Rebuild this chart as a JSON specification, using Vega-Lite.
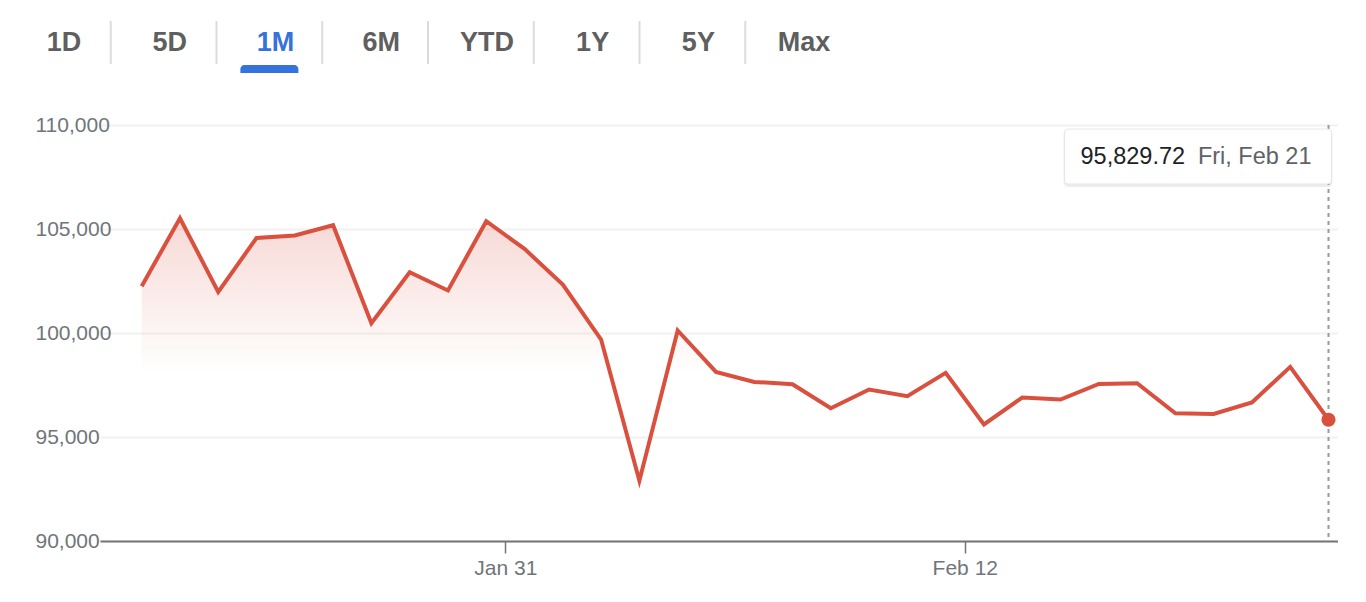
{
  "$schema": "https://vega.github.io/schema/vega-lite/v6.json",
  "padding": {"left": 35, "top": 20, "right": 0, "bottom": 0},
  "background": "white",
  "spacing": 52,
  "bounds": "flush",
  "config": {
    "view": {"stroke": null},
    "font": "Liberation Sans"
  },
  "datasets": {
    "btc": [
      {"date": "2025-01-21T12:00:00", "price": 102250},
      {"date": "2025-01-22T12:00:00", "price": 105519},
      {"date": "2025-01-23T12:00:00", "price": 101976},
      {"date": "2025-01-24T12:00:00", "price": 104572},
      {"date": "2025-01-25T12:00:00", "price": 104688},
      {"date": "2025-01-26T12:00:00", "price": 105183},
      {"date": "2025-01-27T12:00:00", "price": 100471},
      {"date": "2025-01-28T12:00:00", "price": 102923},
      {"date": "2025-01-29T12:00:00", "price": 102043},
      {"date": "2025-01-30T12:00:00", "price": 105375},
      {"date": "2025-01-31T12:00:00", "price": 104043},
      {"date": "2025-02-01T12:00:00", "price": 102332},
      {"date": "2025-02-02T12:00:00", "price": 99687},
      {"date": "2025-02-03T12:00:00", "price": 92899},
      {"date": "2025-02-04T12:00:00", "price": 100120},
      {"date": "2025-02-05T12:00:00", "price": 98130},
      {"date": "2025-02-06T12:00:00", "price": 97649},
      {"date": "2025-02-07T12:00:00", "price": 97538},
      {"date": "2025-02-08T12:00:00", "price": 96385},
      {"date": "2025-02-09T12:00:00", "price": 97284},
      {"date": "2025-02-10T12:00:00", "price": 96962},
      {"date": "2025-02-11T12:00:00", "price": 98082},
      {"date": "2025-02-12T12:00:00", "price": 95601},
      {"date": "2025-02-13T12:00:00", "price": 96899},
      {"date": "2025-02-14T12:00:00", "price": 96803},
      {"date": "2025-02-15T12:00:00", "price": 97553},
      {"date": "2025-02-16T12:00:00", "price": 97587},
      {"date": "2025-02-17T12:00:00", "price": 96144},
      {"date": "2025-02-18T12:00:00", "price": 96111},
      {"date": "2025-02-19T12:00:00", "price": 96659},
      {"date": "2025-02-20T12:00:00", "price": 98370},
      {"date": "2025-02-21T12:00:00", "price": 95829.72}
    ],
    "tabs": [
      {"tab": "1D"}, {"tab": "5D"}, {"tab": "1M"}, {"tab": "6M"},
      {"tab": "YTD"}, {"tab": "1Y"}, {"tab": "5Y"}, {"tab": "Max"}
    ]
  },
  "vconcat": [
    {
      "width": 760,
      "height": 52,
      "data": {"name": "tabs"},
      "encoding": {
        "x": {
          "field": "tab",
          "type": "nominal",
          "sort": null,
          "axis": null,
          "scale": {"type": "band", "range": [-89, 757], "paddingInner": 0, "paddingOuter": 0}
        }
      },
      "layer": [
        {
          "transform": [{"filter": "datum.tab != 'Max'"}],
          "mark": {"type": "rule", "color": "#dcdcdc", "strokeWidth": 2, "xOffset": -6, "strokeDash": [43, 40]},
          "encoding": {"x": {"field": "tab", "type": "nominal", "sort": null, "bandPosition": 1}}
        },
        {
          "transform": [{"filter": "datum.tab == '1M'"}],
          "mark": {"type": "bar", "color": "#3572dc", "width": 58, "yOffset": 44, "xOffset": -6, "cornerRadiusTopLeft": 6, "cornerRadiusTopRight": 6}
        },
        {
          "mark": {"type": "text", "fontSize": 27, "fontWeight": "bold", "baseline": "middle", "align": "center", "dy": -4},
          "encoding": {
            "text": {"field": "tab", "type": "nominal"},
            "color": {"condition": {"test": "datum.tab == '1M'", "value": "#3572dc"}, "value": "#5f5f5f"}
          }
        }
      ]
    },
    {
      "width": 1238,
      "height": 416,
      "data": {"name": "btc"},
      "encoding": {
        "x": {
          "field": "date",
          "type": "temporal",
          "scale": {
            "domain": [
              {"year": 2025, "month": "jan", "date": 20, "hours": 9, "minutes": 52},
              {"year": 2025, "month": "feb", "date": 21, "hours": 17, "minutes": 57}
            ]
          },
          "axis": {
            "title": null,
            "grid": false,
            "values": [
              {"year": 2025, "month": "jan", "date": 31},
              {"year": 2025, "month": "feb", "date": 12}
            ],
            "format": "%b %-d",
            "domainColor": "#757575",
            "domainWidth": 2,
            "tickColor": "#757575",
            "tickWidth": 1.5,
            "tickSize": 12,
            "labelPadding": 4,
            "labelFontSize": 21,
            "labelColor": "#70757a",
            "labelFont": "Liberation Sans"
          }
        },
        "y": {
          "field": "price",
          "type": "quantitative",
          "scale": {"domain": [90000, 110000], "zero": false, "nice": false},
          "axis": {
            "title": null,
            "values": [90000, 95000, 100000, 105000, 110000],
            "format": ",.0f",
            "labelAlign": "left",
            "labelBaseline": "middle",
            "labelPadding": 65,
            "ticks": false,
            "domain": false,
            "grid": true,
            "gridColor": "#f1f1f1",
            "gridWidth": 2,
            "labelFontSize": 21,
            "labelColor": "#70757a",
            "labelFont": "Liberation Sans"
          }
        }
      },
      "layer": [
        {
          "mark": {
            "type": "area",
            "opacity": 1,
            "fill": {
              "gradient": "linear",
              "x1": 0, "y1": 0, "x2": 0, "y2": 1,
              "stops": [
                {"offset": 0, "color": "rgba(217,80,63,0.22)"},
                {"offset": 0.48, "color": "rgba(217,80,63,0)"}
              ]
            }
          },
          "encoding": {"y2": {"datum": 90000}}
        },
        {
          "mark": {"type": "line", "color": "#d9503f", "strokeWidth": 4, "strokeJoin": "miter"}
        },
        {
          "transform": [
            {"window": [{"op": "row_number", "as": "rn"}], "sort": [{"field": "date", "order": "descending"}]},
            {"filter": "datum.rn == 1"}
          ],
          "layer": [
            {
              "mark": {"type": "rule", "color": "#9a9a9a", "strokeWidth": 2, "strokeDash": [4, 4]},
              "encoding": {"y": null}
            },
            {
              "mark": {"type": "point", "filled": true, "color": "#d9503f", "opacity": 1, "size": 200}
            },
            {
              "mark": {"type": "rect", "color": "#000000", "opacity": 0.07, "cornerRadius": 5, "xOffset": -265, "x2Offset": 4, "yOffset": 5, "y2Offset": 62},
              "encoding": {"x2": {"field": "date"}, "y": {"datum": 110000}, "y2": {"datum": 110000}}
            },
            {
              "mark": {"type": "rect", "fill": "#ffffff", "stroke": "#e6e6e6", "strokeWidth": 1, "opacity": 1, "cornerRadius": 4, "xOffset": -264, "x2Offset": 3, "yOffset": 4, "y2Offset": 59},
              "encoding": {"x2": {"field": "date"}, "y": {"datum": 110000}, "y2": {"datum": 110000}}
            },
            {
              "mark": {"type": "text", "align": "left", "baseline": "middle", "fontSize": 23.5, "color": "#202124", "xOffset": -248, "yOffset": 32},
              "encoding": {"y": {"datum": 110000}, "text": {"field": "price", "type": "quantitative", "format": ",.2f"}}
            },
            {
              "mark": {"type": "text", "align": "right", "baseline": "middle", "fontSize": 23.5, "color": "#5f6368", "xOffset": -17, "yOffset": 32},
              "encoding": {"y": {"datum": 110000}, "text": {"field": "date", "type": "temporal", "format": "%a, %b %-d"}}
            }
          ]
        }
      ]
    }
  ]
}
